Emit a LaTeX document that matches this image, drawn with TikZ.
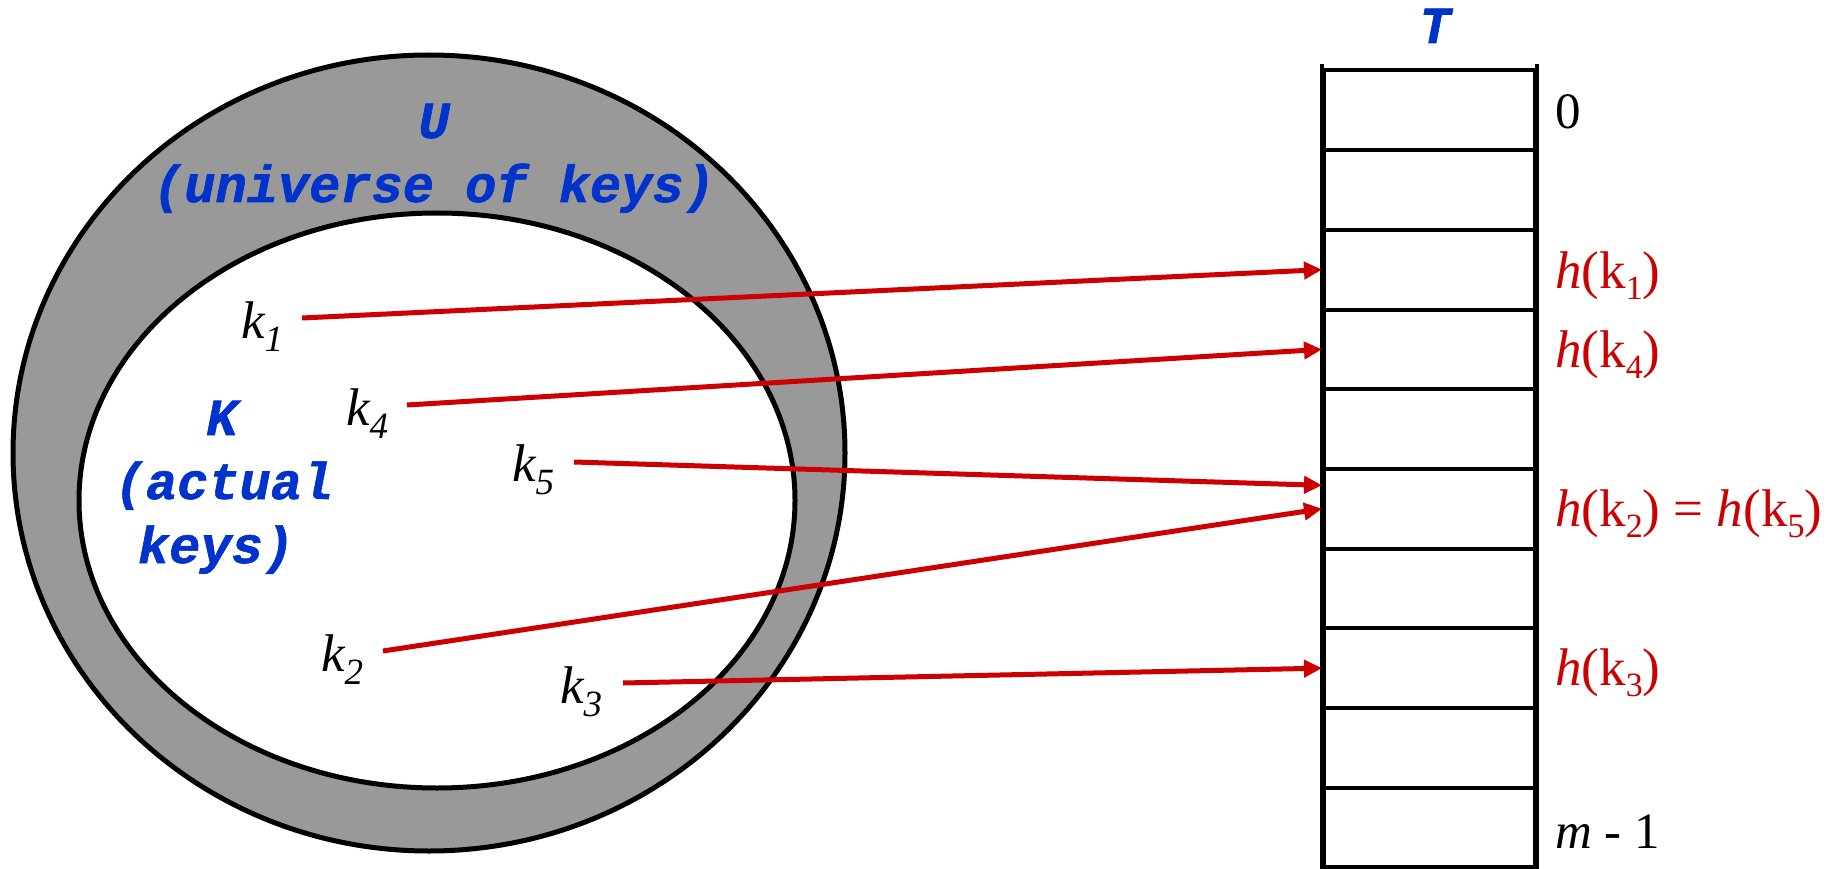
\documentclass[tikz,border=0pt]{standalone}
\usepackage{fontspec}
\setmainfont{Liberation Serif}
\newfontfamily\cour[FakeBold=1.2]{Liberation Mono}
\usetikzlibrary{shapes.geometric,arrows.meta}
\definecolor{ugray}{RGB}{153,153,153}
\definecolor{kblue}{RGB}{0,51,204}
\definecolor{hred}{RGB}{204,0,0}
\newcommand{\ksub}[1]{\raisebox{-13pt}{\fontsize{37}{40}\selectfont\itshape #1}}
\newcommand{\hsub}[1]{\raisebox{-11pt}{\fontsize{34}{36}\selectfont #1}}
\tikzset{
 bluetxt/.style={text=kblue, font=\cour\bfseries\itshape\fontsize{52}{60}\selectfont, inner sep=0, anchor=base},
 keytxt/.style={font=\itshape\fontsize{53}{60}\selectfont, inner sep=0, anchor=base west},
 hashtxt/.style={text=hred, font=\fontsize{53}{60}\selectfont, inner sep=0, anchor=base west},
 idxtxt/.style={font=\fontsize{51}{60}\selectfont, inner sep=0, anchor=base west},
 cell/.style={draw, line width=4, minimum width=211, minimum height=79.7, inner sep=0},
 setshape/.style={ellipse, draw, line width=5, inner sep=0},
 maparrow/.style={draw=hred, line width=5, -{Triangle[length=18,width=17]}},
}
\begin{document}
\begin{tikzpicture}[x=1pt,y=-1pt]
\useasboundingbox (0,0) rectangle (1829,869);
% sets
\node[setshape, fill=ugray, minimum width=832, minimum height=796] (Uset) at (429,453) {};
\node[setshape, fill=white, minimum width=716, minimum height=575] (Kset) at (437,500.5) {};
% set labels
\node[bluetxt] (U1) at (434,138) {U};
\node[bluetxt] (U2) at (434,202) {(universe of keys)};
\node[bluetxt] (K1) at (222,435) {K};
\node[bluetxt] (K2) at (224,499) {(actual};
\node[bluetxt] (K3) at (216,563) {keys)};
% keys
\node[keytxt] (k1) at (241,338.5) {k\ksub{1}};
\node[keytxt] (k4) at (346,425) {k\ksub{4}};
\node[keytxt] (k5) at (512,481) {k\ksub{5}};
\node[keytxt] (k2) at (321,671) {k\ksub{2}};
\node[keytxt] (k3) at (560,703) {k\ksub{3}};
% table
\node[bluetxt] (T) at (1435,43) {T};
\foreach \i in {0,...,9}
  \node[cell] (c\i) at (1429.5,{70.4+79.7*(\i+0.5)}) {};
\draw[line width=4.5] ([yshift=4]c0.north west) -- (c9.south west);
\draw[line width=4.5] ([yshift=4]c0.north east) -- (c9.south east);
% table labels
\node[idxtxt] (i0) at (1555,128.6) {0};
\node[hashtxt] (h1) at (1555,288) {\textit{h}(k\hsub{1})};
\node[hashtxt] (h4) at (1555,367) {\textit{h}(k\hsub{4})};
\node[hashtxt] (h25) at (1555,526.6) {\textit{h}(k\hsub{2}) = \textit{h}(k\hsub{5})};
\node[hashtxt] (h3) at (1555,685.7) {\textit{h}(k\hsub{3})};
\node[idxtxt] (im) at (1555,848) {\textit{m} - 1};
% arrows
\coordinate (s1) at (302,318);
\coordinate (s4) at (407,405);
\coordinate (s5) at (574,462);
\coordinate (s2) at (383,651);
\coordinate (s3) at (623,683);
\draw[maparrow] (s1) -- (c2.west);
\draw[maparrow] (s4) -- (c3.west);
\draw[maparrow] (s5) -- ([yshift=23.4]c5.west);
\draw[maparrow] (s2) -- (c5.west);
\draw[maparrow] (s3) -- (c7.west);
\end{tikzpicture}
\end{document}
